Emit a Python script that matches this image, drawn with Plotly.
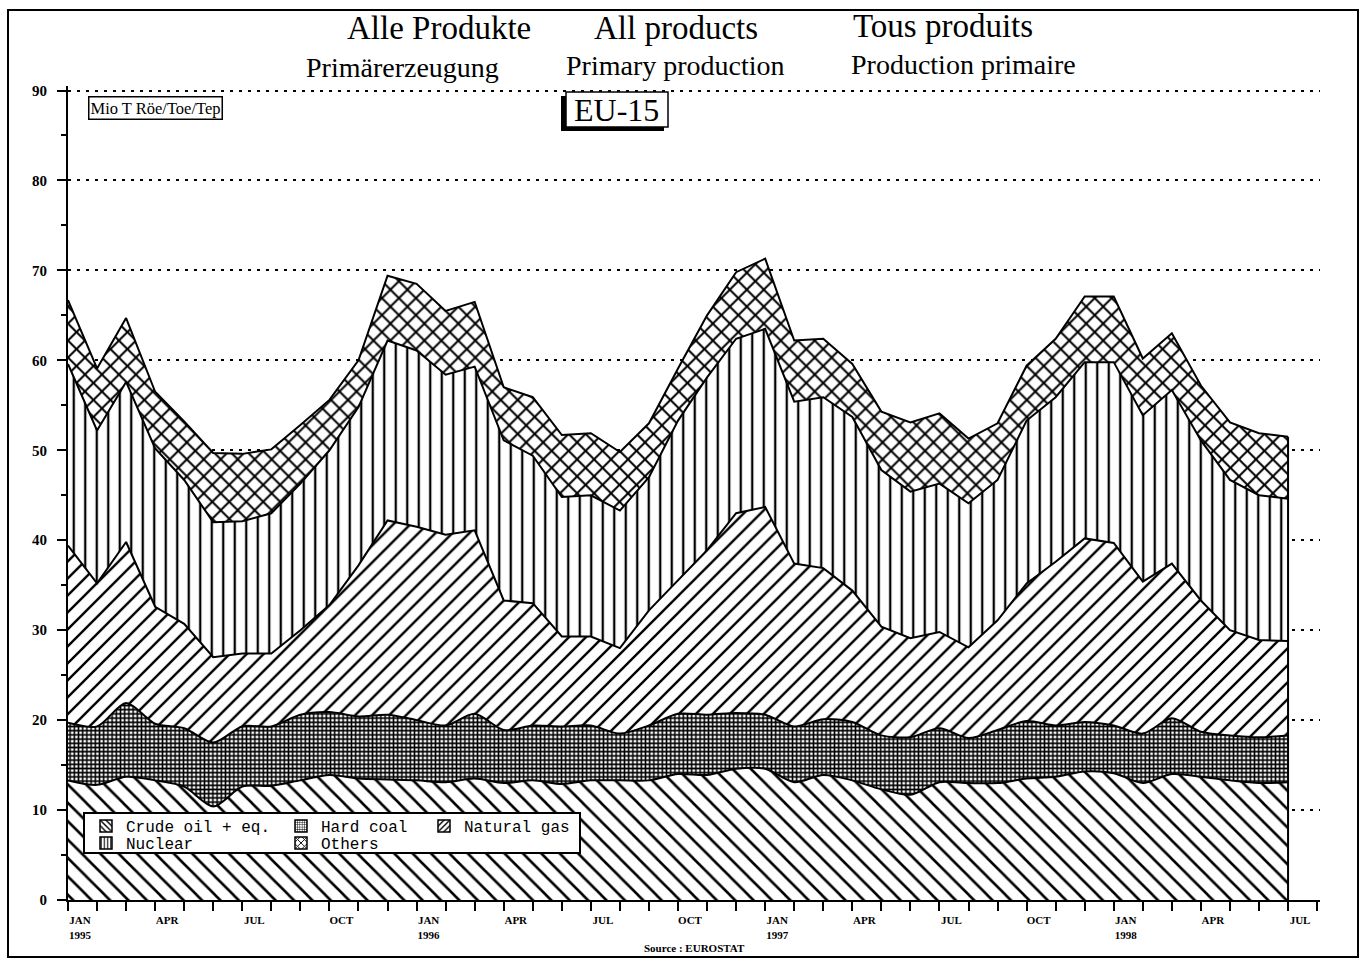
import plotly.graph_objects as go

# Monthly primary production EU-15, Jan 1995 - Jul 1998 (Mio Toe)
month_labels = ["1995-%02d" % m for m in range(1, 13)] + ["1996-%02d" % m for m in range(1, 13)] + \
               ["1997-%02d" % m for m in range(1, 13)] + ["1998-%02d" % m for m in range(1, 8)]

crude = [13.3, 12.8, 13.7, 13.3, 12.6, 10.4, 12.6, 12.7, 13.3, 13.9, 13.5, 13.4,
         13.3, 13.1, 13.5, 13.0, 13.3, 12.9, 13.3, 13.3, 13.3, 14.0, 13.9, 14.6,
         14.6, 13.1, 13.9, 13.3, 12.3, 11.7, 13.1, 13.0, 13.0, 13.5, 13.7, 14.3,
         14.1, 13.0, 14.0, 13.7, 13.3, 13.0, 13.1]
hard_coal = [6.4, 6.5, 8.2, 6.3, 6.5, 7.1, 6.7, 6.6, 7.3, 7.0, 6.9, 7.2,
             6.7, 6.3, 7.2, 5.9, 6.1, 6.4, 6.1, 5.2, 6.1, 6.7, 6.7, 6.2,
             6.0, 6.2, 6.2, 6.5, 6.0, 6.4, 6.0, 5.0, 5.9, 6.4, 5.7, 5.5,
             5.3, 5.5, 6.2, 5.0, 5.0, 5.1, 5.2]
natural_gas = [19.7, 15.9, 17.9, 13.0, 11.6, 9.5, 8.1, 8.1, 9.4, 11.9, 16.8, 21.6,
               21.5, 21.2, 20.4, 14.4, 13.6, 10.0, 9.9, 9.5, 12.8, 14.9, 18.3, 22.2,
               23.1, 18.1, 16.8, 14.6, 12.1, 11.0, 10.7, 10.1, 12.2, 15.3, 18.2, 20.4,
               20.3, 16.9, 17.2, 14.6, 11.7, 10.8, 10.5]
nuclear = [20.2, 17.0, 17.8, 17.6, 16.0, 15.0, 14.7, 15.6, 16.3, 17.2, 17.6, 20.0,
           19.6, 17.8, 18.2, 17.8, 16.4, 15.5, 15.7, 15.3, 14.8, 17.7, 19.2, 19.4,
           19.8, 18.0, 19.0, 19.3, 17.4, 16.3, 16.5, 16.0, 15.6, 18.1, 18.3, 19.6,
           20.1, 18.5, 19.3, 17.8, 16.7, 16.1, 15.8]
others = [7.1, 6.9, 7.1, 6.3, 6.5, 7.7, 7.5, 7.1, 6.5, 5.6, 5.2, 7.2,
          7.4, 7.1, 7.2, 5.9, 6.5, 6.9, 6.9, 6.5, 6.0, 5.8, 6.9, 7.4,
          7.8, 6.8, 6.5, 5.9, 6.5, 7.7, 7.8, 7.2, 6.3, 6.1, 6.5, 7.3,
          7.3, 6.3, 6.3, 6.1, 6.4, 6.9, 6.9]

series_names = ["Crude oil + eq.", "Hard coal", "Natural gas", "Nuclear", "Others"]

tick_positions = [0, 3, 6, 9, 12, 15, 18, 21, 24, 27, 30, 33, 36, 39, 42]
tick_text = ["JAN<br>1995", "APR", "JUL", "OCT", "JAN<br>1996", "APR", "JUL", "OCT",
             "JAN<br>1997", "APR", "JUL", "OCT", "JAN<br>1998", "APR", "JUL"]
y_ticks = [0, 10, 20, 30, 40, 50, 60, 70, 80, 90]

x = list(range(len(month_labels)))

W, H = 1368, 961
ml, mr, mt, mb = 68, 48, 86, 61
pw, ph = W - ml - mr, H - mt - mb


def px(xp):
    return (xp - ml) / pw


def py(yp):
    return (H - mb - yp) / ph


# pattern styles; legend item pixel positions (left x, centre y)
styles = [
    dict(shape="\\", size=13, solidity=0.2, line="spline", lsize=5, lpos=(86, 826)),
    dict(shape="+", size=4.2, solidity=0.6, line="spline", lsize=3, lpos=(281, 826)),
    dict(shape="/", size=12, solidity=0.2, line="linear", lsize=5, lpos=(424, 826)),
    dict(shape="|", size=11.5, solidity=0.2, line="linear", lsize=4, lpos=(86, 843)),
    dict(shape="x", size=12, solidity=0.3, line="linear", lsize=6, lpos=(281, 843)),
]
values = [crude, hard_coal, natural_gas, nuclear, others]

fig = go.Figure()
for name, vals, st in zip(series_names, values, styles):
    fig.add_trace(go.Scatter(
        x=x, y=vals, name=name, stackgroup="one", mode="lines",
        customdata=month_labels, showlegend=False,
        line=dict(color="black", width=2, shape=st["line"], smoothing=0.8),
        fillcolor="white",
        fillpattern=dict(shape=st["shape"], size=st["size"], solidity=st["solidity"],
                         fgcolor="black", bgcolor="white", fillmode="replace"),
        hovertemplate="%{customdata}: %{y}<extra>" + name + "</extra>",
    ))

# right edge of the stacked area
total_last = sum(v[-1] for v in values)
fig.add_trace(go.Scatter(x=[x[-1], x[-1]], y=[0, total_last], mode="lines",
                         line=dict(color="black", width=2), showlegend=False, hoverinfo="skip"))

# legend-only entries (patterned boxes)
legend_layout = {}
for i, (name, st) in enumerate(zip(series_names, styles)):
    key = "legend" if i == 0 else "legend%d" % (i + 1)
    fig.add_trace(go.Bar(
        x=[None], y=[None], name=name, legend=key, showlegend=True, hoverinfo="skip",
        marker=dict(color="white", line=dict(color="black", width=1.5),
                    pattern=dict(shape=st["shape"], size=st["lsize"], solidity=0.35,
                                 fgcolor="black", bgcolor="white", fillmode="replace")),
    ))
    lx, ly = st["lpos"]
    legend_layout[key] = dict(
        orientation="v", x=px(lx), y=py(ly), xanchor="left", yanchor="middle",
        bgcolor="rgba(0,0,0,0)", borderwidth=0, itemwidth=30,
        font=dict(family="Liberation Mono", size=16, color="black"))

serif = "Liberation Serif"

fig.update_layout(
    width=W, height=H,
    margin=dict(l=ml, r=mr, t=mt, b=mb),
    paper_bgcolor="white", plot_bgcolor="white",
    font=dict(family=serif, color="black"),
    showlegend=True,
    xaxis=dict(
        range=[0, 43.1], showgrid=False, zeroline=False,
        showline=True, linecolor="black", linewidth=2,
        tickmode="array", tickvals=tick_positions, ticktext=tick_text,
        ticks="outside", ticklen=9, tickwidth=2, tickcolor="black",
        tickfont=dict(family=serif, size=11, weight="bold"),
        ticklabelshift=12,
        minor=dict(tickmode="linear", tick0=0, dtick=1, ticks="outside",
                   ticklen=9, tickwidth=2, tickcolor="black", showgrid=False),
    ),
    yaxis=dict(
        range=[0, 90.5], tickmode="array", tickvals=y_ticks,
        showgrid=True, gridcolor="black", gridwidth=2, griddash="2.5px,6.5px",
        zeroline=False, showline=True, linecolor="black", linewidth=2,
        ticks="outside", ticklen=9, tickwidth=2, tickcolor="black",
        tickfont=dict(family=serif, size=15, weight="bold"),
        ticklabelstandoff=7,
        minor=dict(tickmode="linear", tick0=0, dtick=5, ticks="outside",
                   ticklen=5, tickwidth=2, tickcolor="black", showgrid=False),
    ),
    **legend_layout,
)

shapes = [
    # outer frame
    dict(type="rect", xref="paper", yref="paper", x0=px(8), x1=px(1358), y0=py(957), y1=py(10),
         line=dict(color="black", width=2), fillcolor="rgba(0,0,0,0)", layer="above"),
    # legend box
    dict(type="rect", xref="paper", yref="paper", x0=px(84), x1=px(580), y0=py(853), y1=py(813),
         line=dict(color="black", width=2), fillcolor="white", layer="above"),
    # EU-15 box shadow and box
    dict(type="rect", xref="paper", yref="paper", x0=px(561), x1=px(664), y0=py(131), y1=py(96),
         line=dict(color="black", width=0), fillcolor="black", layer="above"),
    dict(type="rect", xref="paper", yref="paper", x0=px(566), x1=px(668), y0=py(127), y1=py(92),
         line=dict(color="black", width=1.5), fillcolor="white", layer="above"),
]
fig.update_layout(shapes=shapes)

annotations = [
    dict(text="Alle Produkte", x=px(439), y=py(28), size=33),
    dict(text="All products", x=px(676), y=py(28), size=33),
    dict(text="Tous produits", x=px(943), y=py(26), size=33),
    dict(text="Primärerzeugung", x=px(402), y=py(67), size=28),
    dict(text="Primary production", x=px(675), y=py(66), size=28),
    dict(text="Production primaire", x=px(963), y=py(64), size=28),
    dict(text="EU-15", x=px(616), y=py(110), size=32),
]
for a in annotations:
    fig.add_annotation(text=a["text"], x=a["x"], y=a["y"], xref="paper", yref="paper",
                       xanchor="center", yanchor="middle", showarrow=False,
                       font=dict(family=serif, size=a["size"], color="black"))

fig.add_annotation(text="Mio T Röe/Toe/Tep", x=px(155), y=py(108), xref="paper", yref="paper",
                   xanchor="center", yanchor="middle", showarrow=False,
                   font=dict(family=serif, size=16.5, color="black"),
                   bordercolor="black", borderwidth=1.5, borderpad=1, bgcolor="white")
fig.add_annotation(text="<b>Source : EUROSTAT</b>", x=px(694), y=py(948), xref="paper", yref="paper",
                   xanchor="center", yanchor="middle", showarrow=False,
                   font=dict(family=serif, size=11, color="black"))

fig.write_html("out.html", config={"displayModeBar": False},
               post_script="document.body.style.margin='0';document.body.style.overflow='hidden';")
